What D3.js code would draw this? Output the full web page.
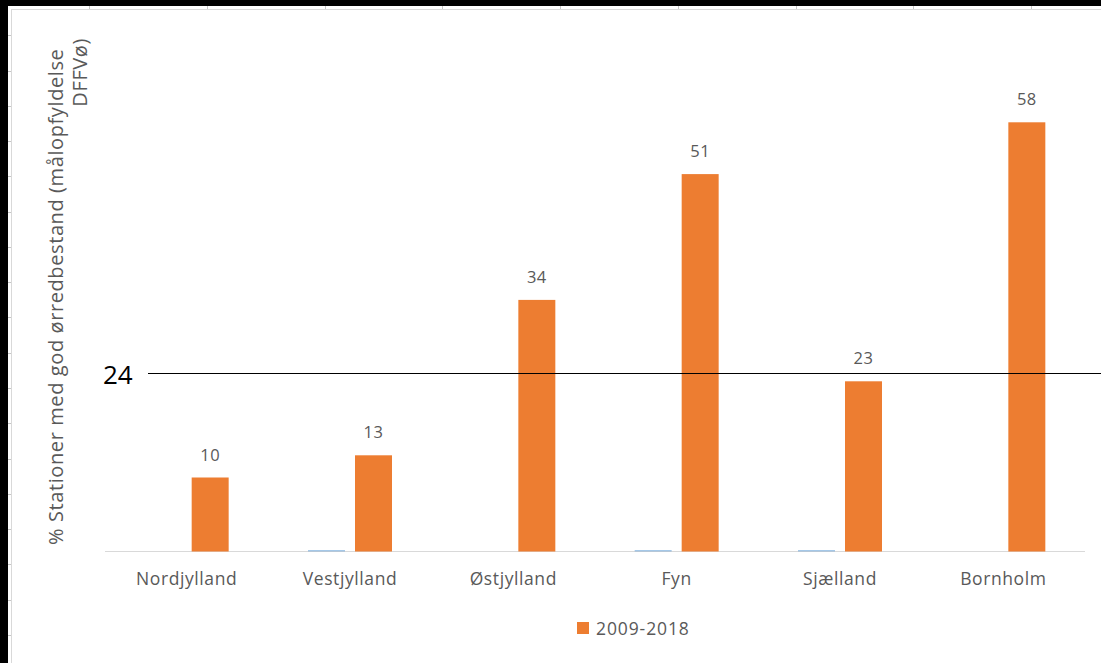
<!DOCTYPE html>
<html>
<head>
<meta charset="utf-8">
<script src="https://cdn.jsdelivr.net/npm/d3@7"></script>
<style>
  body { margin: 0; background: #fff; }
  svg { display: block; }
  text { font-family: "Open Sans", sans-serif; }
</style>
</head>
<body>
<svg id="chart" width="1101" height="663"></svg>
<script>
// Regions and share of stations with a good trout population (%)
const categories = ["Nordjylland", "Vestjylland", "Østjylland", "Fyn", "Sjælland", "Bornholm"];
const seriesKeys = ["Serie1", "2009-2018"];
const serie1Values = [null, 0, null, 0, 0, null];
const periodValues = [10, 13, 34, 51, 23, 58];
const referenceValue = 24;
const legendLabels = ["2009-2018"];
const yTitleLines = ["% Stationer med god ørredbestand (målopfyldelse", "DFFVø)"];

const W = 1101, H = 663;
const svg = d3.select("#chart");

// page frame: dark edges, sheet header strips, chart-area border
svg.append("rect").attr("x", 0).attr("y", 0).attr("width", W).attr("height", H).attr("fill", "#fff");
svg.append("rect").attr("x", 0).attr("y", 0).attr("width", W).attr("height", 6).attr("fill", "#000");
svg.append("rect").attr("x", 0).attr("y", 0).attr("width", 8).attr("height", H).attr("fill", "#000");
const colTicks = d3.range(89, W, 117.75);
svg.selectAll("line.colTick").data(colTicks).join("line")
  .attr("x1", d => Math.round(d) + 0.5).attr("x2", d => Math.round(d) + 0.5)
  .attr("y1", 6).attr("y2", 9).attr("stroke", "#c6c6c6");
const rowTicks = d3.range(35.27, H, 35.27);
svg.selectAll("line.rowTick").data(rowTicks).join("line")
  .attr("y1", d => Math.round(d) + 0.5).attr("y2", d => Math.round(d) + 0.5)
  .attr("x1", 8).attr("x2", 11).attr("stroke", "#c6c6c6");
svg.append("line").attr("x1", 11).attr("x2", W).attr("y1", 9.5).attr("y2", 9.5).attr("stroke", "#d9d9d9");
svg.append("line").attr("x1", 11.5).attr("x2", 11.5).attr("y1", 9).attr("y2", H).attr("stroke", "#d9d9d9");

// scales
const x0 = d3.scaleBand().domain(categories).range([105, 1085]).paddingInner(0).paddingOuter(0);
const x1 = d3.scaleBand().domain(seriesKeys).range([0, x0.bandwidth()]).paddingInner(0.213).paddingOuter(0.844);
const y = d3.scaleLinear().domain([0, 60]).range([551.5, 107.5]);

const colors = { "Serie1": "#5b9bd5", "2009-2018": "#ed7d31" };

// category axis line
svg.append("line")
  .attr("x1", 105).attr("x2", 1085)
  .attr("y1", y(0)).attr("y2", y(0))
  .attr("stroke", "#d9d9d9").attr("stroke-width", 1);

// empty series: drawn as a hairline on the axis where the value is zero
const s1 = categories.map((c, i) => ({ c, v: serie1Values[i] })).filter(d => d.v !== null);
svg.selectAll("rect.s1").data(s1).join("rect")
  .attr("x", d => x0(d.c) + x1("Serie1"))
  .attr("width", x1.bandwidth())
  .attr("y", d => Math.min(y(d.v), y(0) - 1.5))
  .attr("height", d => Math.max(1.5, y(0) - y(d.v)))
  .attr("fill", colors["Serie1"]).attr("opacity", 0.55);

// period bars
const s2 = categories.map((c, i) => ({ c, v: periodValues[i] }));
svg.selectAll("rect.s2").data(s2).join("rect")
  .attr("x", d => x0(d.c) + x1("2009-2018"))
  .attr("width", x1.bandwidth())
  .attr("y", d => y(d.v))
  .attr("height", d => y(0) - y(d.v))
  .attr("fill", colors["2009-2018"]);

// value labels
svg.selectAll("text.val").data(s2).join("text")
  .attr("x", d => x0(d.c) + x1("2009-2018") + x1.bandwidth() / 2)
  .attr("y", d => y(d.v) - 17)
  .attr("text-anchor", "middle")
  .attr("font-size", 16.5)
  .attr("letter-spacing", 0.5)
  .attr("fill", "#595959")
  .text(d => d.v);

// category labels
svg.selectAll("text.cat").data(categories).join("text")
  .attr("x", d => x0(d) + x0.bandwidth() / 2)
  .attr("y", 585)
  .attr("text-anchor", "middle")
  .attr("font-size", 17.5)
  .attr("letter-spacing", 0.6)
  .attr("fill", "#595959")
  .text(d => d);

// axis title, two rotated lines
const titleX = [58, 82];
yTitleLines.forEach((line, i) => {
  svg.append("text")
    .attr("transform", `translate(${titleX[i]},${i === 0 ? 545 : 38}) rotate(-90)`)
    .attr("text-anchor", i === 0 ? "start" : "end")
    .attr("dominant-baseline", "middle")
    .attr("font-size", 20)
    .attr("letter-spacing", 0.6)
    .attr("fill", "#595959")
    .text(line);
});

// reference level
svg.append("line")
  .attr("x1", 148).attr("x2", W)
  .attr("y1", Math.round(y(referenceValue)) - 0.5).attr("y2", Math.round(y(referenceValue)) - 0.5)
  .attr("stroke", "#000").attr("stroke-width", 1);
svg.append("text")
  .attr("x", 103).attr("y", y(referenceValue) + 10)
  .attr("font-family", "Liberation Sans, sans-serif")
  .attr("font-size", 26)
  .attr("fill", "#000")
  .text(referenceValue);

// legend
const lg = svg.append("g").attr("transform", "translate(577,622)");
lg.selectAll("rect").data(legendLabels).join("rect")
  .attr("x", 0).attr("y", 0).attr("width", 12).attr("height", 12)
  .attr("fill", colors["2009-2018"]);
lg.selectAll("text").data(legendLabels).join("text")
  .attr("x", 19).attr("y", 12.5)
  .attr("font-size", 17.5)
  .attr("letter-spacing", 0.9)
  .attr("fill", "#595959")
  .text(d => d);
</script>
</body>
</html>
